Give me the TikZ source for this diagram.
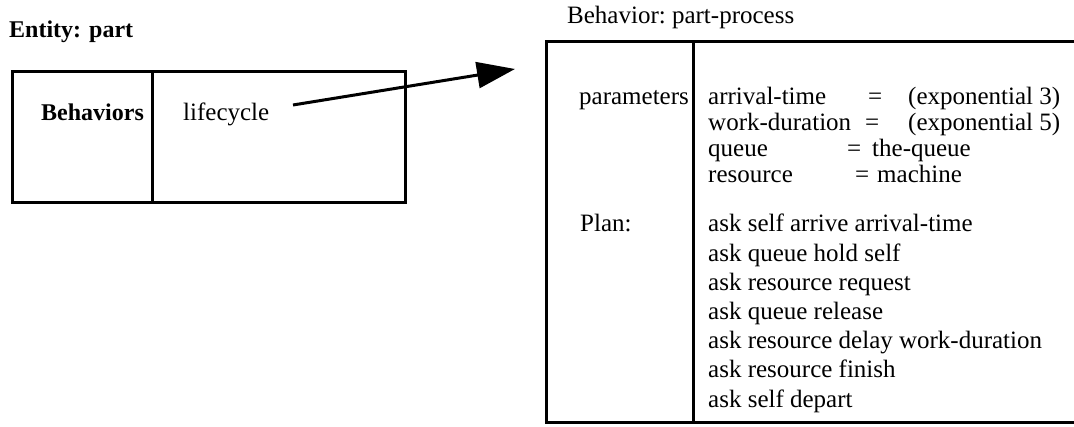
\documentclass[tikz,border=0pt]{standalone}
\usepackage{fontspec}
\setmainfont{Liberation Serif}
\usetikzlibrary{arrows.meta}

\begin{document}
\begin{tikzpicture}[x=1pt,y=-1pt,
    txt/.style={anchor=base west,inner sep=0pt,font=\fontsize{25}{29}\selectfont},
    btxt/.style={txt,font=\fontsize{24}{28}\selectfont\bfseries},
    frame/.style={line width=3pt},
    link/.style={line width=3pt,-{Triangle[length=38pt,width=26pt]}}]
    \useasboundingbox (0,0) rectangle (1074,427);
    % entity box
    \node[btxt] (entity) at (9,38) {Entity: part};
    \draw[frame] (12,72) rectangle (405,203);
    \draw[frame] (152,72) -- (152,203);
    \node[btxt] (behaviors) at (41,121) {Behaviors};
    \node[txt] (lifecycle) at (183,121) {lifecycle};
    % behavior box
    \node[txt] (behavior) at (567,24) {Behavior:\ part-process};
    \draw[frame] (1074,42) -- (546,42) -- (546,423) -- (1074,423);
    \draw[frame] (693,42) -- (693,423);
    \node[txt] (params) at (579,105) {parameters};
    \node[txt] (p1) at (708,105) {arrival-time};
    \node[txt] (p2) at (708,131) {work-duration};
    \node[txt] (p3) at (708,157) {queue};
    \node[txt] (p4) at (708,183) {resource};
    \node[txt] (e1) at (868,105) {=};
    \node[txt] (e2) at (865,131) {=};
    \node[txt] (e3) at (847,157) {=};
    \node[txt] (e4) at (855,183) {=};
    \node[txt] (v1) at (908,105) {(exponential 3)};
    \node[txt] (v2) at (908,131) {(exponential 5)};
    \node[txt] (v3) at (872,157) {the-queue};
    \node[txt] (v4) at (877,183) {machine};
    \node[txt] (plan) at (580,232) {Plan:};
    \foreach \s [count=\i from 0] in {ask self arrive arrival-time,
        ask queue hold self, ask resource request, ask queue release,
        ask resource delay work-duration, ask resource finish, ask self depart}
        \node[txt] (step\i) at (708,232+29.2*\i) {\s};
    % link
    \coordinate (from) at (293,105);
    \coordinate (to) at (515,69);
    \draw[link] (from) -- (to);
\end{tikzpicture}
\end{document}
